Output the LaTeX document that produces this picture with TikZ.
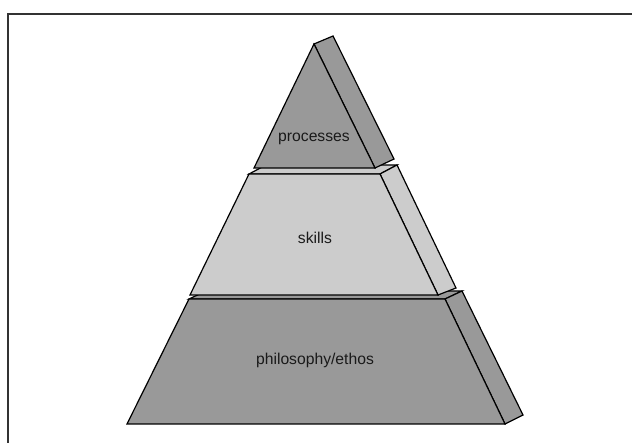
\documentclass[tikz,border=0pt]{standalone}
\usepackage{fontspec}
\setmainfont{Liberation Sans}
\definecolor{darkface}{HTML}{999999}
\definecolor{lightface}{HTML}{CCCCCC}
\definecolor{labelink}{HTML}{1A1A1A}
\tikzset{
  face/.style={draw=black, line width=1.2pt, line join=miter},
  dark/.style={face, fill=darkface},
  light/.style={face, fill=lightface},
  layerlabel/.style={anchor=base, text=labelink, inner sep=0pt, font=\fontsize{15.7}{18}\selectfont},
  frameline/.style={draw=black!80, line width=1.6pt}
}
\begin{document}
\begin{tikzpicture}[x=1pt,y=-1pt]
\useasboundingbox (0,0) rectangle (632,443);
% frame (top and left only)
\coordinate (fTL) at (8,14);
\coordinate (fTR) at (632,14);
\coordinate (fBL) at (8,443);
\draw[frameline] (fBL) -- (fTL) -- (fTR);

% ---------- bottom layer: philosophy/ethos ----------
\coordinate (A1) at (189,299);
\coordinate (B1) at (445,299);
\coordinate (C1) at (505,424);
\coordinate (D1) at (127,424);
\coordinate (A1b) at (206,291);
\coordinate (B1b) at (462,291);
\coordinate (C1b) at (523,415);
\filldraw[dark] (A1) -- (A1b) -- (B1b) -- (B1) -- cycle;
\filldraw[dark] (B1) -- (B1b) -- (C1b) -- (C1) -- cycle;
\filldraw[dark] (A1) -- (B1) -- (C1) -- (D1) -- cycle;

% ---------- middle layer: skills ----------
\coordinate (A2) at (249,174);
\coordinate (B2) at (380,174);
\coordinate (C2) at (438,295);
\coordinate (D2) at (190,295);
\coordinate (A2b) at (266,165);
\coordinate (B2b) at (397,165);
\coordinate (C2b) at (456,288);
\filldraw[light] (A2) -- (A2b) -- (B2b) -- (B2) -- cycle;
\filldraw[light] (B2) -- (B2b) -- (C2b) -- (C2) -- cycle;
\filldraw[light] (A2) -- (B2) -- (C2) -- (D2) -- cycle;

% ---------- top layer: processes ----------
\coordinate (P) at (314,44);
\coordinate (Q) at (375,168);
\coordinate (R) at (254,168);
\coordinate (Pb) at (333,36);
\coordinate (Qb) at (394,159);
\filldraw[dark] (P) -- (Pb) -- (Qb) -- (Q) -- cycle;
\filldraw[dark] (P) -- (Q) -- (R) -- cycle;

% labels
\node[layerlabel] (lproc) at (314,141.7) {processes};
\node[layerlabel] (lskill) at (315,243.9) {skills};
\node[layerlabel] (lphil) at (315,364.5) {philosophy/ethos};
\end{tikzpicture}
\end{document}
